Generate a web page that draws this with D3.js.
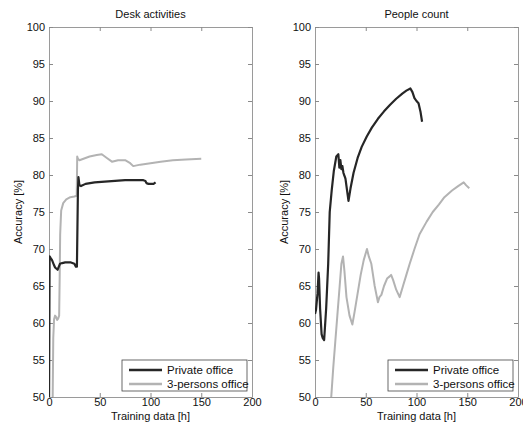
<!doctype html>
<html lang="en">
<head>
<meta charset="UTF-8">
<title>Accuracy vs training data</title>
<script src="https://d3js.org/d3.v7.min.js"></script>
<style>
  body { margin: 0; background: #fff; }
  svg text { font-family: "Liberation Sans", Arial, sans-serif; fill: #111; }
</style>
</head>
<body>
<div id="chart"></div>
<script>
// ---- data ----
const xTicks = [0, 50, 100, 150, 200];
const yTicks = [50, 55, 60, 65, 70, 75, 80, 85, 90, 95, 100];
const seriesNames = ["Private office", "3-persons office"];
const titles = ["Desk activities", "People count"];

// Desk activities
const deskPrivX = [0, 0.6, 1.5, 3, 5, 6, 8.5, 10.8, 13, 16, 21, 25, 26.5, 27.5, 28.5, 29, 30, 31.5, 36, 45, 55, 65, 75, 85, 93, 95, 96, 98, 100, 103, 105];
const deskPrivY = [48, 69, 68.8, 68.5, 67.8, 67.5, 67.2, 68, 68.1, 68.2, 68.2, 68, 67.6, 67.6, 78, 79.7, 78.6, 78.5, 78.8, 79, 79.1, 79.2, 79.3, 79.3, 79.3, 79.2, 78.9, 78.8, 78.8, 78.8, 79];
const deskShareX = [3.5, 4.2, 5, 6, 7, 8, 9, 10, 10.5, 11, 12, 14, 17, 21, 25, 27.3, 27.8, 28.5, 30, 34, 40, 47, 52, 57, 62, 68, 75, 80, 83, 90, 100, 110, 122, 135, 150];
const deskShareY = [48, 58, 60.5, 61, 60.8, 60.4, 60.6, 61, 66, 72, 75.2, 76.2, 76.7, 77, 77.1, 77.2, 82.5, 82.2, 82, 82.2, 82.5, 82.7, 82.8, 82.3, 81.8, 82, 82, 81.6, 81.2, 81.4, 81.6, 81.8, 82, 82.1, 82.2];

// People count
const peoplePrivX = [0, 1, 2.5, 3.5, 4, 5, 6.5, 7.5, 9, 11, 13, 14.5, 16.5, 18.5, 21, 23, 24, 25, 26, 27, 28, 30, 33, 35, 38, 42, 46, 51, 56, 62, 68, 74, 80, 86, 90, 94, 96, 98, 100, 102, 104, 105.5];
const peoplePrivY = [61.2, 61.8, 64, 66.8, 66, 62, 58.5, 58, 57.7, 62, 68, 75, 78, 80.5, 82.5, 82.8, 81, 82, 80.8, 81.2, 80.3, 79.5, 76.5, 78.2, 80.3, 82.3, 83.8, 85.2, 86.4, 87.6, 88.6, 89.5, 90.3, 91, 91.4, 91.7, 91.2, 90.4, 90, 89.7, 88.5, 87.2];
const peopleShareX = [15, 16, 18, 20, 22, 24.3, 26, 27.6, 29, 31, 34, 36.8, 39, 42, 45, 48, 51.2, 53, 55.5, 58.8, 62, 63.5, 65.4, 68, 71, 73.6, 75, 77, 80, 83.4, 86.7, 90, 93.3, 98, 103, 110, 116, 122, 127.5, 135, 141, 146.5, 149, 152];
const peopleShareY = [47, 50, 54, 57.5, 61, 65, 68, 69, 67, 63.5, 61, 59.8, 61.5, 64, 66.5, 68.5, 70, 69, 68, 65, 62.8, 63.5, 63.8, 65, 66, 66.3, 66.5, 65.8, 64.5, 63.5, 65, 66.5, 68, 70, 72, 73.7, 75, 76, 77, 77.9, 78.5, 79, 78.6, 78.2];

const panels = [
  { title: titles[0], left: 49, series: [[deskPrivX, deskPrivY], [deskShareX, deskShareY]] },
  { title: titles[1], left: 315, series: [[peoplePrivX, peoplePrivY], [peopleShareX, peopleShareY]] }
];
const colors = ["#262626", "#b3b3b3"];

const W = 523, H = 428;
const plotTop = 27, plotH = 370, plotW = 203;

const svg = d3.select("#chart").append("svg")
  .attr("width", W).attr("height", H);

panels.forEach(function (p, pi) {
  const x = d3.scaleLinear().domain([0, 200]).range([0, plotW]);
  const y = d3.scaleLinear().domain([50, 100]).range([plotH, 0]);

  const g = svg.append("g").attr("transform", "translate(" + p.left + "," + plotTop + ")");

  g.append("clipPath").attr("id", "clip" + pi)
    .append("rect").attr("width", plotW).attr("height", plotH);

  g.append("rect").attr("width", plotW).attr("height", plotH).attr("fill", "#fff");

  // axes, ticks inward on all four sides
  const axB = g.append("g").attr("transform", "translate(0," + plotH + ")")
    .call(d3.axisBottom(x).tickValues(xTicks).tickSizeInner(-4).tickSizeOuter(0).tickPadding(1));
  const axT = g.append("g")
    .call(d3.axisTop(x).tickValues(xTicks).tickSizeInner(-4).tickSizeOuter(0).tickFormat(""));
  const axL = g.append("g")
    .call(d3.axisLeft(y).tickValues(yTicks).tickSizeInner(-4).tickSizeOuter(0).tickPadding(4));
  const axR = g.append("g").attr("transform", "translate(" + plotW + ",0)")
    .call(d3.axisRight(y).tickValues(yTicks).tickSizeInner(-4).tickSizeOuter(0).tickFormat(""));

  [axB, axT, axL, axR].forEach(function (a) {
    a.select(".domain").attr("stroke", "#9a9a9a");
    a.selectAll(".tick line").attr("stroke", "#8a8a8a");
    a.selectAll("text").attr("font-size", 11).attr("fill", "#111")
      .attr("font-family", "Liberation Sans, Arial, sans-serif");
  });

  // lines
  const line = d3.line()
    .x(function (d) { return x(d[0]); })
    .y(function (d) { return y(d[1]); });

  const lines = g.append("g").attr("clip-path", "url(#clip" + pi + ")");
  // gray first, black on top
  [1, 0].forEach(function (si) {
    const s = p.series[si];
    const pts = s[0].map(function (v, i) { return [v, s[1][i]]; });
    lines.append("path")
      .datum(pts)
      .attr("d", line)
      .attr("fill", "none")
      .attr("stroke", colors[si])
      .attr("stroke-width", si === 0 ? 2.2 : 2)
      .attr("stroke-linejoin", "round");
  });

  // title and labels
  g.append("text").attr("x", plotW / 2).attr("y", -9)
    .attr("text-anchor", "middle").attr("font-size", 11).text(p.title);
  g.append("text").attr("x", plotW / 2).attr("y", plotH + 23)
    .attr("text-anchor", "middle").attr("font-size", 11).text("Training data [h]");
  g.append("text")
    .attr("transform", "translate(-27," + (plotH / 2) + ") rotate(-90)")
    .attr("text-anchor", "middle").attr("font-size", 11).text("Accuracy [%]");

  // legend
  const lg = g.append("g").attr("transform", "translate(" + (plotW - 130) + "," + (plotH - 37) + ")");
  lg.append("rect").attr("width", 125).attr("height", 31)
    .attr("fill", "#fff").attr("stroke", "#444").attr("stroke-width", 0.8);
  seriesNames.forEach(function (name, i) {
    const ly = 10 + i * 14;
    lg.append("line").attr("x1", 7).attr("x2", 40).attr("y1", ly).attr("y2", ly)
      .attr("stroke", colors[i]).attr("stroke-width", 2.3);
    lg.append("text").attr("x", 45).attr("y", ly + 4)
      .attr("font-size", 11.5).text(name);
  });
});
</script>
</body>
</html>
